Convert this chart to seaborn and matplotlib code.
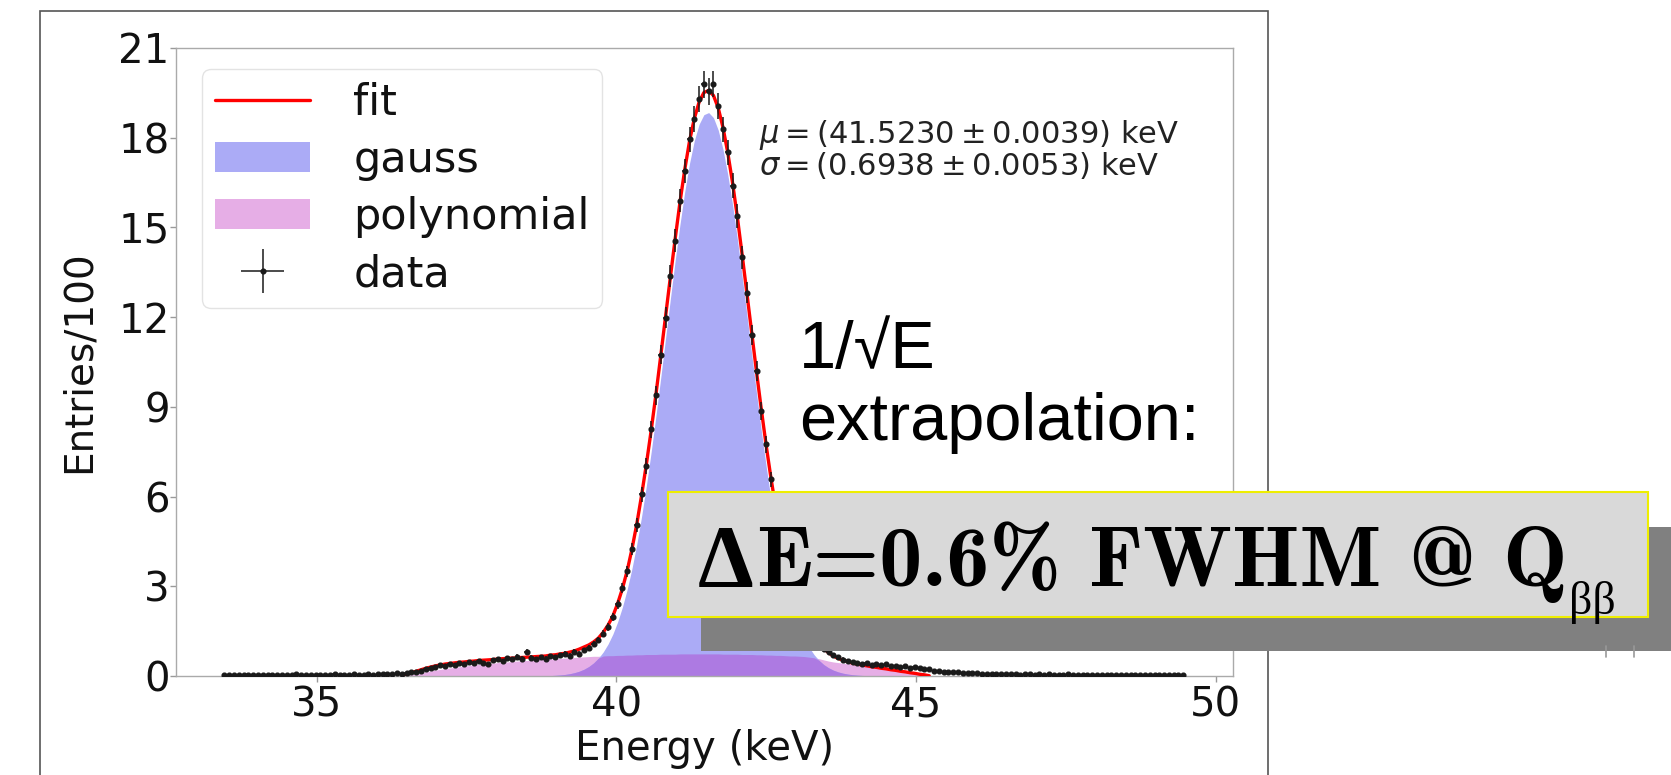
import numpy as np
import matplotlib
matplotlib.use("Agg")
import matplotlib.pyplot as plt
from matplotlib.patches import Rectangle, Patch
from matplotlib.lines import Line2D
import seaborn as sns

# histogram of the peak, 201 bins of 0.08 keV
bin_edges = np.linspace(33.42, 49.50, 202)
energy = (bin_edges[:-1] + bin_edges[1:]) / 2

counts = [
    0.03, 0.02, 0.03, 0.04, 0.02, 0.03, 0.03, 0.04, 0.03, 0.02,
    0.04, 0.03, 0.05, 0.03, 0.04, 0.06, 0.03, 0.04, 0.05, 0.04,
    0.03, 0.05, 0.04, 0.06, 0.04, 0.05, 0.04, 0.06, 0.05, 0.04,
    0.06, 0.05, 0.07, 0.06, 0.08, 0.07, 0.09,
    0.08, 0.10, 0.12, 0.15, 0.18, 0.22, 0.26, 0.30, 0.36, 0.33,
    0.41, 0.38, 0.44, 0.40, 0.47, 0.42, 0.50, 0.45, 0.39, 0.52,
    0.56, 0.50, 0.60, 0.57, 0.64, 0.58, 0.80, 0.61, 0.57, 0.63,
    0.58, 0.66, 0.62, 0.70, 0.74, 0.68, 0.80, 0.74, 0.86, 0.95,
    1.08, 1.20, 1.42, 1.65, 1.98, 2.40, 2.95, 3.50, 4.25, 5.05,
    6.08, 7.02, 8.25, 9.38, 10.75, 11.98, 13.38, 14.55, 15.90, 16.88,
    17.95, 18.62, 19.30, 19.78, 19.55, 19.80, 19.05, 18.28, 17.52, 16.40,
    15.38, 14.00, 12.82, 11.40, 10.20, 8.85, 7.75, 6.58, 5.68, 4.70,
    4.02, 3.25, 2.80, 2.25, 1.95, 1.58, 1.38, 1.12, 0.92, 0.80,
    0.70, 0.62, 0.55, 0.50, 0.46, 0.44, 0.41, 0.43, 0.38, 0.40,
    0.36, 0.39, 0.34, 0.33, 0.30, 0.32, 0.28, 0.30, 0.26, 0.22,
    0.24, 0.18, 0.16, 0.14, 0.13, 0.12, 0.12, 0.11, 0.10, 0.10,
    0.09, 0.08, 0.08, 0.07, 0.08, 0.07, 0.06,
    0.06, 0.07, 0.05, 0.06, 0.06, 0.05, 0.06, 0.05, 0.06, 0.05,
    0.04, 0.05, 0.06, 0.05, 0.04, 0.05, 0.05, 0.04, 0.05, 0.04,
    0.05, 0.04, 0.04, 0.05, 0.04, 0.03, 0.04, 0.04, 0.03, 0.04,
    0.03, 0.04, 0.03, 0.03, 0.04, 0.03, 0.03,
]
counts = np.array(counts)

# fit components, defined on the bins of the fit window
FIT_START = 37

fit = [
    0.02, 0.06, 0.11, 0.16, 0.21, 0.26, 0.30, 0.34, 0.37, 0.40,
    0.42, 0.44, 0.46, 0.47, 0.49, 0.50, 0.52, 0.53, 0.54, 0.55,
    0.57, 0.58, 0.59, 0.60, 0.61, 0.62, 0.63, 0.64, 0.65, 0.66,
    0.67, 0.70, 0.71, 0.74, 0.76, 0.80, 0.84, 0.90, 0.97, 1.04,
    1.14, 1.27, 1.46, 1.70, 2.00, 2.42, 2.92, 3.52, 4.25, 5.08,
    6.04, 7.08, 8.21, 9.42, 10.71, 12.02, 13.33, 14.61, 15.83, 16.93,
    17.88, 18.64, 19.19, 19.51, 19.58, 19.41, 18.99, 18.33, 17.48, 16.47,
    15.32, 14.06, 12.76, 11.45, 10.14, 8.89, 7.70, 6.61, 5.62, 4.74,
    3.97, 3.30, 2.75, 2.28, 1.90, 1.58, 1.32, 1.11, 0.92, 0.78,
    0.67, 0.59, 0.53, 0.48, 0.43, 0.40, 0.37, 0.34, 0.31, 0.29,
    0.26, 0.24, 0.21, 0.19, 0.16, 0.14, 0.11, 0.09, 0.06, 0.04, 0.01,
]

gauss = [0.0] * 27 + [
    0.002, 0.004, 0.006, 0.010,
    0.015, 0.023, 0.035, 0.052, 0.077, 0.112, 0.160, 0.227, 0.318, 0.439,
    0.598, 0.805, 1.067, 1.398, 1.807, 2.304, 2.899, 3.598, 4.407, 5.331,
    6.362, 7.489, 8.701, 9.977, 11.286, 12.60, 13.88, 15.09, 16.19, 17.14,
    17.90, 18.45, 18.77, 18.84, 18.67, 18.25, 17.60, 16.75, 15.74, 14.59,
    13.34, 12.04, 10.73, 9.43, 8.18, 7.00, 5.91, 4.93, 4.05, 3.29,
    2.63, 2.08, 1.62, 1.25, 0.948, 0.711, 0.526, 0.383, 0.276, 0.196,
    0.138, 0.095, 0.065, 0.044, 0.029, 0.019, 0.012,
    0.007, 0.004, 0.002, 0.001,
] + [0.0] * 9

polynomial = [
    0.00, 0.02, 0.05, 0.08, 0.11, 0.14, 0.17, 0.20, 0.22, 0.25,
    0.27, 0.29, 0.31, 0.33, 0.35, 0.37, 0.39, 0.40, 0.42, 0.43,
    0.45, 0.46, 0.47, 0.49, 0.50, 0.51, 0.52, 0.53, 0.54, 0.55,
    0.56, 0.57, 0.58, 0.59, 0.60, 0.61, 0.62, 0.63, 0.64, 0.65,
    0.66, 0.66, 0.67, 0.68, 0.68, 0.69, 0.69, 0.70, 0.70, 0.71,
    0.71, 0.72, 0.72, 0.72, 0.73, 0.73, 0.73, 0.73, 0.74, 0.74,
    0.74, 0.74, 0.74, 0.74, 0.74, 0.74, 0.74, 0.73, 0.73, 0.73,
    0.73, 0.72, 0.72, 0.72, 0.71, 0.71, 0.70, 0.70, 0.69, 0.69,
    0.68, 0.67, 0.67, 0.66, 0.65, 0.63, 0.61, 0.58, 0.54, 0.50,
    0.47, 0.45, 0.43, 0.41, 0.39, 0.37, 0.35, 0.33, 0.31, 0.29,
    0.26, 0.24, 0.21, 0.19, 0.16, 0.14, 0.11, 0.09, 0.06, 0.04, 0.01,
]

x_ticks = [35, 40, 45, 50]
y_ticks = [0, 3, 6, 9, 12, 15, 18, 21]

fit_result = (r'$\mu = (41.5230 \pm 0.0039)$ keV' + '\n'
              + r'$\sigma = (0.6938 \pm 0.0053)$ keV')

BLUE = '#ababf6'
PINK = '#e6aee6'
PURPLE = '#ad7ae2'

sns.set_theme(style="white")
plt.rcParams['font.family'] = ['DejaVu Sans']
plt.rcParams['mathtext.fontset'] = 'dejavusans'

fig = plt.figure(figsize=(16.71, 7.75), dpi=100)
fig.patch.set_facecolor('white')
ax = fig.add_axes([0.1053, 0.1277, 0.6326, 0.8104])

fit = np.array(fit)
gauss = np.array(gauss)
polynomial = np.array(polynomial)
x_fit = energy[FIT_START:FIT_START + len(fit)]
x_gauss = energy[FIT_START:FIT_START + len(gauss)]
x_poly = energy[FIT_START:FIT_START + len(polynomial)]
n_ov = min(len(gauss), len(polynomial))

ax.fill_between(x_poly, 0, polynomial, color=PINK, lw=0, zorder=1)
ax.fill_between(x_gauss, 0, gauss, color=BLUE, lw=0, zorder=1.1)
ax.fill_between(x_gauss[:n_ov], 0, np.minimum(gauss[:n_ov], polynomial[:n_ov]),
                color=PURPLE, lw=0, zorder=1.2)

sns.lineplot(x=x_fit, y=fit, color='red', lw=2.4, ax=ax, zorder=3, legend=False)

data_err = ax.errorbar(energy, counts, xerr=0.04, yerr=np.sqrt(counts) / 10,
                       fmt='o', ms=3.4, color='k', ecolor='k',
                       elinewidth=1.1, capsize=0, zorder=4)

handles = [
    Line2D([], [], color='red', lw=2.4),
    Patch(facecolor=BLUE, edgecolor='none'),
    Patch(facecolor=PINK, edgecolor='none'),
    data_err,
]
leg = ax.legend(handles, ['fit', 'gauss', 'polynomial', 'data'],
                loc='upper left', bbox_to_anchor=(0.0251, 0.9666),
                borderaxespad=0, fontsize=31, handlelength=2.2,
                framealpha=0.8, borderpad=0.3, labelspacing=0.35,
                handletextpad=1.0)
leg.get_frame().set_edgecolor('#dddddd')
for t in leg.get_texts():
    t.set_color('#111111')

ax.text(0.5516, 0.8376, fit_result, transform=ax.transAxes, fontsize=22,
        va='center', ha='left', color='#222222', linespacing=0.92)

ax.set_xlim(32.65, 50.29)
ax.set_ylim(0, 21)
ax.set_xticks(x_ticks)
ax.set_yticks(y_ticks)
ax.tick_params(axis='both', labelsize=29, length=4, width=1, color='#999999',
               bottom=True, left=True, labelcolor='#111111')
ax.tick_params(axis='y', pad=0.5)
ax.tick_params(axis='x', pad=3)
for sp in ax.spines.values():
    sp.set_color('#aaaaaa')
    sp.set_linewidth(1.0)
ax.set_xlabel('Energy (keV)', fontsize=29, labelpad=2, color='#111111')
ax.set_ylabel('Entries/100', fontsize=28, labelpad=15, color='#111111')

# slide overlay: picture frame, caption, highlighted result box
fig.add_artist(Rectangle((0.0239, -0.05), 0.7349, 1.0358, transform=fig.transFigure,
                         fill=False, edgecolor='#555555', lw=1.2))

sans = ['Liberation Sans', 'DejaVu Sans']
fig.text(0.4782, 0.5252, '1/\u221aE', fontsize=48, family=sans, va='baseline', color='black')
fig.text(0.4782, 0.4323, 'extrapolation:', fontsize=48, family=sans, va='baseline', color='black')

fig.add_artist(Rectangle((0.4195, 0.16), 0.60, 0.16, transform=fig.transFigure,
                         facecolor='#808080', edgecolor='none'))
fig.add_artist(Rectangle((0.3998, 0.2039), 0.5865, 0.1613, transform=fig.transFigure,
                         facecolor='#d9d9d9', edgecolor='#eeee00', lw=1.5))

# result line, set piece by piece so each part gets its own face
renderer = fig.canvas.get_renderer()
W = fig.bbox.width
base = 0.2439
serif_b = dict(family=['Liberation Serif', 'DejaVu Serif'], weight='bold')
cm_b = dict(family=['cmb10', 'DejaVu Serif'])
pieces = [
    ('\u0394', 64, serif_b, 0, 0.0),
    ('E=0.6%', 62, cm_b, 2, 0.0),
    ('FWHM', 62, cm_b, 28, 0.0),
    ('@', 62, cm_b, 27, 0.0),
    ('Q', 62, cm_b, 27, 0.0),
    ('\u03b2\u03b2', 33, dict(family=['Liberation Serif', 'DejaVu Serif']), 2, -0.036),
]
x_px = 698
for txt, size, fam, gap, dy in pieces:
    x_px += gap
    t = fig.text(x_px / W, base + dy, txt, fontsize=size, va='baseline',
                 color='black', **fam)
    x_px = t.get_window_extent(renderer).x1

fig.add_artist(Line2D([0.9611, 0.9611], [0.152, 0.166], transform=fig.transFigure,
                      color='#999999', lw=1.2))
fig.add_artist(Line2D([0.9779, 0.9779], [0.152, 0.166], transform=fig.transFigure,
                      color='#999999', lw=1.2))

fig.savefig('out.png', dpi=100)
